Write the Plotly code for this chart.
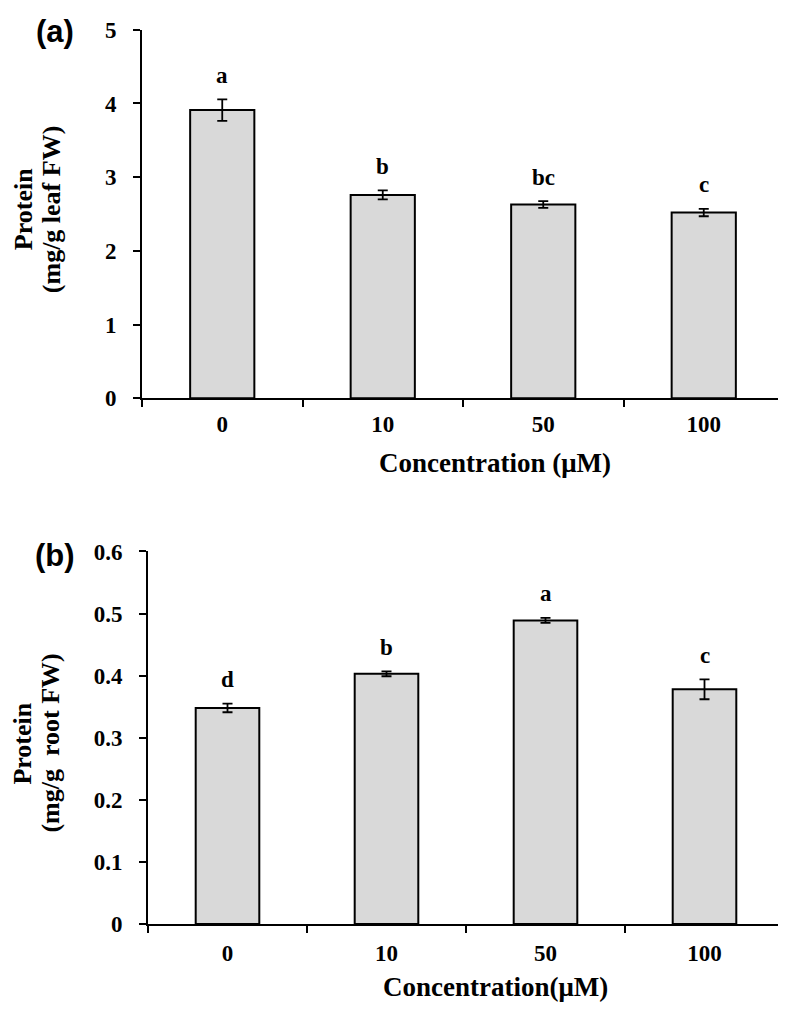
import plotly.graph_objects as go

# data
conc = ["0", "10", "50", "100"]

leaf_protein = [3.91, 2.76, 2.63, 2.52]
leaf_err = [0.145, 0.06, 0.045, 0.05]
leaf_letters = ["a", "b", "bc", "c"]

root_protein = [0.348, 0.403, 0.489, 0.378]
root_err = [0.007, 0.004, 0.004, 0.016]
root_letters = ["d", "b", "a", "c"]

# the html body keeps its default 8px margin, so the figure is a bit smaller
# and every position below is given in page pixels
PAGE_OFF = 8
W, H = 786 - PAGE_OFF, 1015 - PAGE_OFF
SERIF = "Liberation Serif"
SANS = "Liberation Sans"
BAR_FILL = "#d9d9d9"


def px_x(p):
    return (p - PAGE_OFF) / W


def px_y(p):
    return 1 - (p - PAGE_OFF) / H


fig = go.Figure()

# (a) leaf
fig.add_trace(go.Bar(
    x=conc, y=leaf_protein, width=0.4,
    marker=dict(color=BAR_FILL, line=dict(color="black", width=2)),
    error_y=dict(type="data", array=leaf_err, color="black", thickness=1.8, width=5),
    xaxis="x", yaxis="y", showlegend=False,
))

# (b) root
fig.add_trace(go.Bar(
    x=conc, y=root_protein, width=0.4,
    marker=dict(color=BAR_FILL, line=dict(color="black", width=2)),
    error_y=dict(type="data", array=root_err, color="black", thickness=1.8, width=5),
    xaxis="x2", yaxis="y2", showlegend=False,
))

tickfont = dict(family=SERIF, size=23, color="black")
xcommon = dict(
    type="category", categoryorder="array", categoryarray=conc,
    range=[-0.5, len(conc) - 0.5], tickangle=0,
    showline=True, linecolor="black", linewidth=2,
    ticks="outside", tickson="boundaries", ticklen=7, tickwidth=2, tickcolor="black",
    tickfont=tickfont, showgrid=False, zeroline=False,
    tickprefix="<b>", ticksuffix="</b>",
)
ycommon = dict(
    showline=True, linecolor="black", linewidth=2,
    ticks="outside", ticklen=7, tickwidth=2, tickcolor="black",
    tickfont=tickfont, showgrid=False, zeroline=False, ticklabelstandoff=12,
    tickprefix="<b>", ticksuffix="</b>",
)

fig.update_layout(
    width=W, height=H, autosize=False,
    margin=dict(l=0, r=0, t=0, b=0),
    paper_bgcolor="white", plot_bgcolor="white",
    font=dict(family=SERIF, color="black"),
    xaxis=dict(xcommon, domain=[px_x(142), px_x(784)], anchor="y", ticklabelstandoff=4),
    yaxis=dict(ycommon, domain=[px_y(396), px_y(18)], anchor="x", range=[0, 5], dtick=1),
    xaxis2=dict(xcommon, domain=[px_x(148), px_x(784)], anchor="y2", ticklabelstandoff=7),
    yaxis2=dict(ycommon, domain=[px_y(935), px_y(553)], anchor="x2", range=[0, 0.6], dtick=0.1),
)

# significance letters above error bars (category index as x)
for ys, es, labs, xr, yr in [
    (leaf_protein, leaf_err, leaf_letters, "x", "y"),
    (root_protein, root_err, root_letters, "x2", "y2"),
]:
    for i, (v, e, lab) in enumerate(zip(ys, es, labs)):
        fig.add_annotation(
            x=i, y=v + e, xref=xr, yref=yr, text=f"<b>{lab}</b>", showarrow=False,
            yanchor="middle", yshift=24,
            font=dict(family=SERIF, size=23, color="black"),
        )

# y titles: one annotation per line so the line gap matches
titlefont = dict(family=SERIF, size=26, color="black")
for lines, ymid in [(["Protein", "(mg/g leaf FW)"], 202),
                    (["Protein", "(mg/g  root FW)"], 750)]:
    for line, xc in zip(lines, [23, 51]):
        fig.add_annotation(
            x=px_x(xc), y=px_y(ymid), xref="paper", yref="paper",
            text=f"<b>{line}</b>", textangle=-90, showarrow=False,
            xanchor="center", yanchor="middle", font=titlefont,
        )

fig.add_annotation(
    x=px_x(495), y=px_y(462), xref="paper", yref="paper",
    text="<b>Concentration (μM)</b>", showarrow=False,
    xanchor="center", yanchor="middle", font=dict(family=SERIF, size=27, color="black"),
)
fig.add_annotation(
    x=px_x(495), y=px_y(1000), xref="paper", yref="paper",
    text="<b>Concentration(μM)</b>", showarrow=False,
    xanchor="center", yanchor="middle", font=dict(family=SERIF, size=27, color="black"),
)

# panel labels
for lab, ypx in [("(a)", 20), ("(b)", 557)]:
    fig.add_annotation(
        x=px_x(55), y=px_y(ypx), xref="paper", yref="paper",
        text=f"<b>{lab}</b>", showarrow=False,
        xanchor="center", yanchor="middle", font=dict(family=SANS, size=31, color="black"),
    )

fig.update_traces(hoverinfo="skip")

fig.write_html("out.html")
